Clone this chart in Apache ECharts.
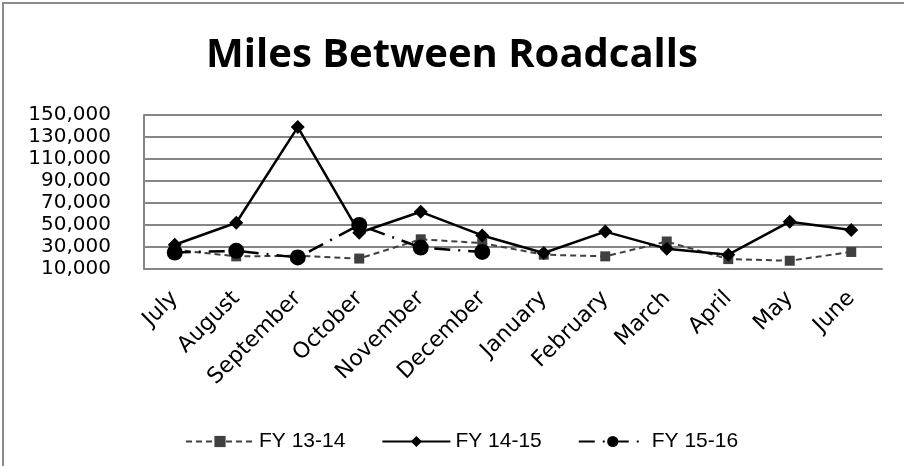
<!DOCTYPE html>
<html>
<head>
<meta charset="utf-8">
<script src="https://cdn.jsdelivr.net/npm/echarts@6/dist/echarts.min.js"></script>
<style>
  html, body { margin: 0; padding: 0; background: #fff; }
  #chart { width: 904px; height: 466px; }
</style>
</head>
<body>
<div id="chart"></div>
<script>
// months of the fiscal year
var months = ['July', 'August', 'September', 'October', 'November', 'December',
              'January', 'February', 'March', 'April', 'May', 'June'];
var fy1314 = [27500, 21500, 22000, 19500, 37000, 33500, 23000, 21500, 35000, 19000, 17500, 25500];
var fy1415 = [32000, 52000, 139000, 43000, 62000, 40500, 24500, 44000, 28500, 23000, 53000, 45500];
var fy1516 = [25000, 26500, 20500, 50000, 29500, 25500];
var yTicks = [10000, 150000, 20000]; // min, max, step

var chart = echarts.init(document.getElementById('chart'));

var option = {
    animation: false,
    title: {
        text: 'Miles Between Roadcalls',
        left: 'center',
        top: 31,
        textStyle: { fontFamily: 'Open Sans', fontWeight: 'bold', fontSize: 40, color: '#000' }
    },
    graphic: [{
        type: 'rect',
        shape: { x: 3, y: 3, width: 1000, height: 1000 },
        style: { fill: 'none', stroke: '#8c8c8c', lineWidth: 2 }
    }],
    legend: {
        top: 426,
        left: 180,
        itemWidth: 68,
        itemHeight: 14,
        itemGap: 36,
        textStyle: { fontFamily: 'Liberation Sans', fontSize: 21, color: '#000' },
        data: ['FY 13-14', 'FY 14-15', 'FY 15-16']
    },
    grid: { left: 144, right: 22, top: 115, bottom: 197 },
    xAxis: {
        type: 'category',
        data: months,
        boundaryGap: true,
        axisLine: { lineStyle: { color: '#868686', width: 2 } },
        axisTick: { show: false },
        axisLabel: {
            rotate: 45,
            margin: 26,
            fontFamily: 'DejaVu Sans',
            fontSize: 22,
            color: '#000'
        }
    },
    yAxis: {
        type: 'value',
        min: yTicks[0],
        max: yTicks[1],
        interval: yTicks[2],
        axisLine: { show: true, lineStyle: { color: '#868686', width: 2 } },
        axisTick: { show: false },
        splitLine: { lineStyle: { color: '#868686', width: 2 } },
        axisLabel: {
            margin: 33,
            fontFamily: 'DejaVu Sans',
            fontSize: 20,
            color: '#000',
            formatter: function (v) { return v.toLocaleString('en-US'); }
        }
    },
    series: [
        {
            name: 'FY 13-14',
            type: 'line',
            data: fy1314,
            symbol: 'rect',
            symbolSize: 10,
            color: '#404040',
            lineStyle: { color: '#404040', width: 2, type: [6, 4] },
            itemStyle: { color: '#404040' }
        },
        {
            name: 'FY 14-15',
            type: 'line',
            data: fy1415,
            symbol: 'diamond',
            symbolSize: 14,
            color: '#000',
            lineStyle: { color: '#000', width: 2.5 },
            itemStyle: { color: '#000' }
        },
        {
            name: 'FY 15-16',
            type: 'line',
            data: fy1516,
            symbol: 'circle',
            symbolSize: 16,
            color: '#000',
            lineStyle: { color: '#000', width: 2.5, type: [16, 8, 2, 8] },
            itemStyle: { color: '#000' }
        }
    ]
};

chart.setOption(option);
</script>
</body>
</html>
